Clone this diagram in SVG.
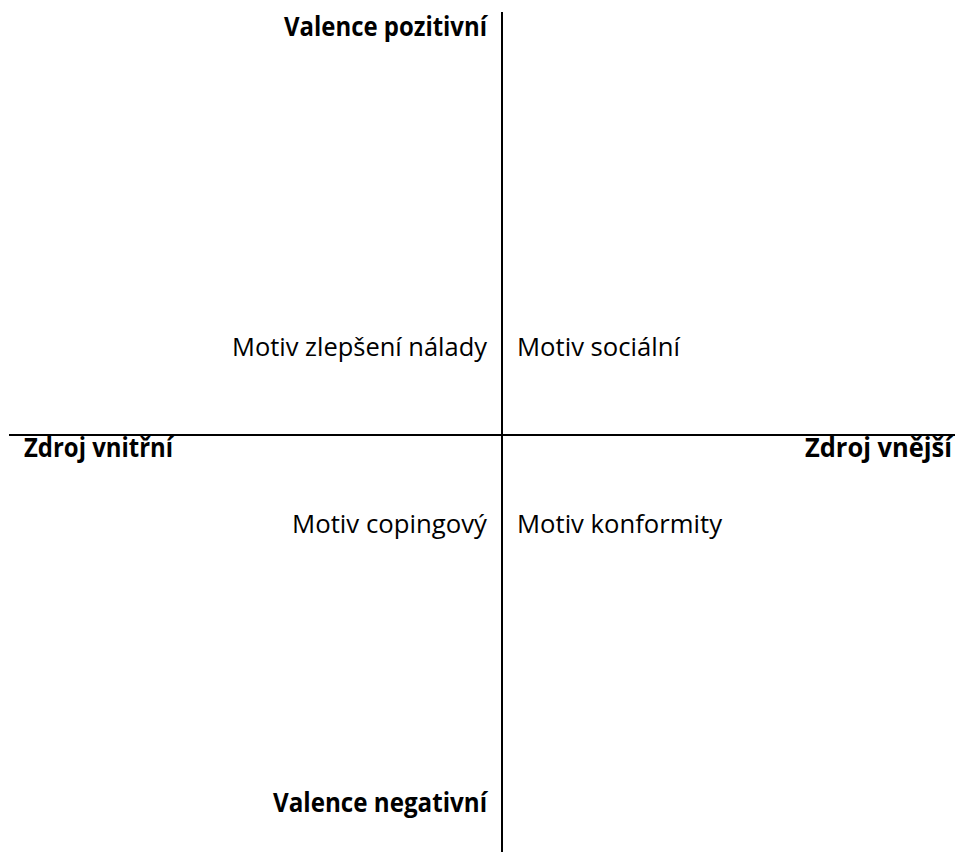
<svg xmlns="http://www.w3.org/2000/svg" width="955" height="852" viewBox="0 0 955 852">
<style>
.t{font-family:"Open Sans","Noto Sans","Liberation Sans",sans-serif;font-size:26px;fill:#000}
.b{font-weight:bold}
.ax{stroke:#000;stroke-width:2;fill:none}
</style>
<rect width="955" height="852" fill="#fff"/>
<g id="connectors">
<line class="ax" x1="502" y1="12" x2="502" y2="852"/>
<line class="ax" x1="9" y1="435" x2="955" y2="435"/>
</g>
<g id="valence-pozitivni"><text class="t b" x="487" y="36" text-anchor="end" textLength="203" lengthAdjust="spacingAndGlyphs">Valence pozitivní</text></g>
<g id="valence-negativni"><text class="t b" x="487" y="812" text-anchor="end" textLength="214" lengthAdjust="spacingAndGlyphs">Valence negativní</text></g>
<g id="zdroj-vnitrni"><text class="t b" x="24" y="457" textLength="149" lengthAdjust="spacingAndGlyphs">Zdroj vnitřní</text></g>
<g id="zdroj-vnejsi"><text class="t b" x="952" y="457" text-anchor="end" textLength="147" lengthAdjust="spacingAndGlyphs">Zdroj vnější</text></g>
<g id="motiv-zlepseni"><text class="t" x="487" y="356" text-anchor="end" textLength="255" lengthAdjust="spacingAndGlyphs">Motiv zlepšení nálady</text></g>
<g id="motiv-socialni"><text class="t" x="517" y="356" textLength="163" lengthAdjust="spacingAndGlyphs">Motiv sociální</text></g>
<g id="motiv-copingovy"><text class="t" x="487" y="533" text-anchor="end" textLength="195" lengthAdjust="spacingAndGlyphs">Motiv copingový</text></g>
<g id="motiv-konformity"><text class="t" x="517" y="533" textLength="205" lengthAdjust="spacingAndGlyphs">Motiv konformity</text></g>
</svg>
